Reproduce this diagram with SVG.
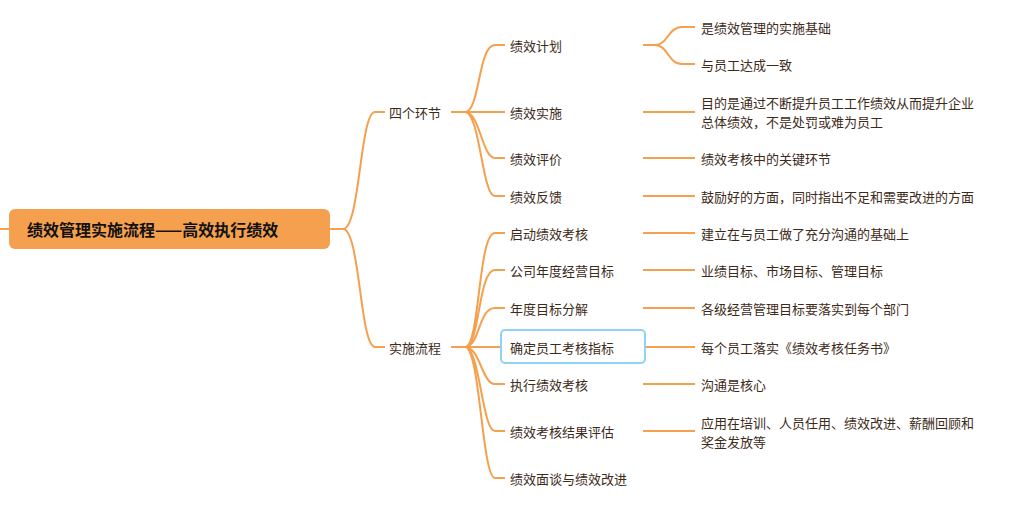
<svg xmlns="http://www.w3.org/2000/svg" width="1022" height="505" viewBox="0 0 1022 505">
<style>
.c{fill:none;stroke:#f5a04f;stroke-width:2}
text{font-family:"Noto Sans CJK SC","Noto Sans",sans-serif;font-size:13px;fill:#3d2b1a;dominant-baseline:central}
.r{font-size:16px;font-weight:bold;fill:#111}
</style>
<rect width="1022" height="505" fill="#fff"/>
<g id="connectors">
<path class="c" d="M0 229H9M330 229H343C360 229 360 112 375 112H385M343 229C360 229 360 347 375 347H385"/>
<path class="c" d="M451 112H465C480 112 478 45 495 45H505M465 112H505M465 112C480 112 482 158 495 158H505M465 112C480 112 482 196 495 196H505"/>
<path class="c" d="M451 347H465C480 347 478 233 495 233H505M465 347C480 347 478 270 495 270H505M465 347C480 347 478 308 495 308H505M465 347H501M465 347C480 347 482 384 495 384H505M465 347C480 347 482 431 495 431H505M465 347C480 347 482 478 495 478H505"/>
<path class="c" d="M643 45H655C668 45 668 27 682 27H695M655 45C668 45 668 64 682 64H695M643 112H695M643 158H695M643 196H695M643 233H695M643 270H695M643 308H695M645 347H695M643 384H695M643 431H695"/>
</g>
<g id="root"><rect x="9" y="209" width="321" height="40" rx="6" fill="#f5a04f"/><text class="r" x="27" y="229">绩效管理实施流程——高效执行绩效</text></g>
<g id="n1"><text x="389" y="112">四个环节</text></g>
<g id="n2"><text x="389" y="347">实施流程</text></g>
<g id="a1"><text x="510" y="45">绩效计划</text></g>
<g id="a2"><text x="510" y="112">绩效实施</text></g>
<g id="a3"><text x="510" y="158">绩效评价</text></g>
<g id="a4"><text x="510" y="196">绩效反馈</text></g>
<g id="b1"><text x="510" y="233">启动绩效考核</text></g>
<g id="b2"><text x="510" y="270">公司年度经营目标</text></g>
<g id="b3"><text x="510" y="308">年度目标分解</text></g>
<g id="b4"><rect x="501" y="330" width="144" height="33" rx="4" fill="#fff" stroke="#8dd3f5" stroke-width="2"/><text x="510" y="347">确定员工考核指标</text></g>
<g id="b5"><text x="510" y="384">执行绩效考核</text></g>
<g id="b6"><text x="510" y="431">绩效考核结果评估</text></g>
<g id="b7"><text x="510" y="478">绩效面谈与绩效改进</text></g>
<g id="l1"><text x="701" y="27">是绩效管理的实施基础</text></g>
<g id="l2"><text x="701" y="64">与员工达成一致</text></g>
<g id="l3"><text x="701" y="102">目的是通过不断提升员工工作绩效从而提升企业</text><text x="701" y="121">总体绩效，不是处罚或难为员工</text></g>
<g id="l4"><text x="701" y="158">绩效考核中的关键环节</text></g>
<g id="l5"><text x="701" y="196">鼓励好的方面，同时指出不足和需要改进的方面</text></g>
<g id="l6"><text x="701" y="233">建立在与员工做了充分沟通的基础上</text></g>
<g id="l7"><text x="701" y="270">业绩目标、市场目标、管理目标</text></g>
<g id="l8"><text x="701" y="308">各级经营管理目标要落实到每个部门</text></g>
<g id="l9"><text x="701" y="347">每个员工落实《绩效考核任务书》</text></g>
<g id="l10"><text x="701" y="384">沟通是核心</text></g>
<g id="l11"><text x="701" y="422">应用在培训、人员任用、绩效改进、薪酬回顾和</text><text x="701" y="441">奖金发放等</text></g>
</svg>
